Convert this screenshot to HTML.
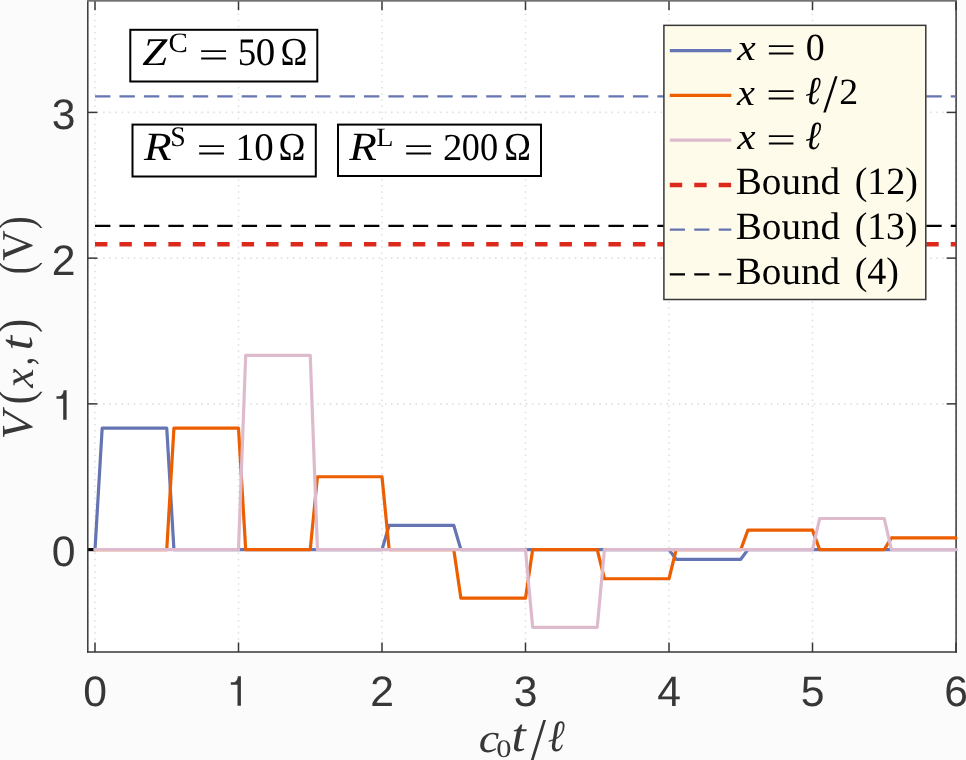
<!DOCTYPE html>
<html><head><meta charset="utf-8"><style>
html,body{margin:0;padding:0;background:#fbfbfb;overflow:hidden;}
svg{display:block;will-change:transform;}
text{font-kerning:none;text-rendering:geometricPrecision;}
</style></head><body>
<svg width="966" height="760" viewBox="0 0 966 760">
<rect x="0" y="0" width="966" height="760" fill="#fbfbfb"/>
<rect x="87.8" y="0" width="868.30" height="652.00" fill="#ffffff"/>
<g stroke="#e0e0e0" stroke-width="1.6" stroke-dasharray="1.6 4.525" fill="none">
<g stroke-dashoffset="-0.95">
<line x1="95.00" y1="0.30" x2="95.00" y2="652.00"/>
<line x1="238.50" y1="0.30" x2="238.50" y2="652.00"/>
<line x1="382.00" y1="0.30" x2="382.00" y2="652.00"/>
<line x1="525.50" y1="0.30" x2="525.50" y2="652.00"/>
<line x1="669.00" y1="0.30" x2="669.00" y2="652.00"/>
<line x1="812.50" y1="0.30" x2="812.50" y2="652.00"/>
<line x1="956.00" y1="0.30" x2="956.00" y2="652.00"/>
</g>
<g stroke-dashoffset="-3.05">
<line x1="87.80" y1="549.60" x2="956.10" y2="549.60"/>
<line x1="87.80" y1="403.87" x2="956.10" y2="403.87"/>
<line x1="87.80" y1="258.14" x2="956.10" y2="258.14"/>
<line x1="87.80" y1="112.41" x2="956.10" y2="112.41"/>
</g>
</g>
<g stroke="#373737" stroke-width="1.5" fill="none">
<line x1="87.8" y1="0" x2="87.8" y2="652.75"/>
<line x1="956.1" y1="0" x2="956.1" y2="652.75"/>
<line x1="87.05" y1="652.0" x2="956.85" y2="652.0"/>
<line x1="95.00" y1="652.00" x2="95.00" y2="642.50"/>
<line x1="95.00" y1="0.00" x2="95.00" y2="10.20"/>
<line x1="238.50" y1="652.00" x2="238.50" y2="642.50"/>
<line x1="238.50" y1="0.00" x2="238.50" y2="10.20"/>
<line x1="382.00" y1="652.00" x2="382.00" y2="642.50"/>
<line x1="382.00" y1="0.00" x2="382.00" y2="10.20"/>
<line x1="525.50" y1="652.00" x2="525.50" y2="642.50"/>
<line x1="525.50" y1="0.00" x2="525.50" y2="10.20"/>
<line x1="669.00" y1="652.00" x2="669.00" y2="642.50"/>
<line x1="669.00" y1="0.00" x2="669.00" y2="10.20"/>
<line x1="812.50" y1="652.00" x2="812.50" y2="642.50"/>
<line x1="812.50" y1="0.00" x2="812.50" y2="10.20"/>
<line x1="956.00" y1="652.00" x2="956.00" y2="642.50"/>
<line x1="956.00" y1="0.00" x2="956.00" y2="10.20"/>
<line x1="87.80" y1="549.60" x2="97.30" y2="549.60"/>
<line x1="956.10" y1="549.60" x2="946.60" y2="549.60"/>
<line x1="87.80" y1="403.87" x2="97.30" y2="403.87"/>
<line x1="956.10" y1="403.87" x2="946.60" y2="403.87"/>
<line x1="87.80" y1="258.14" x2="97.30" y2="258.14"/>
<line x1="956.10" y1="258.14" x2="946.60" y2="258.14"/>
<line x1="87.80" y1="112.41" x2="97.30" y2="112.41"/>
<line x1="956.10" y1="112.41" x2="946.60" y2="112.41"/>
</g>
<rect x="87.05" y="0" width="869.80" height="1.7" fill="#727272"/>
<g fill="none" stroke-width="3.2" stroke-linejoin="round" stroke-linecap="round">
<line x1="88.3" y1="549.6" x2="95.00" y2="549.6" stroke="#000" stroke-linecap="butt"/>
<polyline points="95.00,549.60 102.17,428.16 166.75,428.16 173.93,549.60 382.00,549.60 389.17,525.31 453.75,525.31 460.92,549.60 669.00,549.60 676.17,559.32 740.75,559.32 747.92,549.60 956.00,549.60" stroke="#6574b2"/>
<polyline points="95.00,549.60 166.75,549.60 173.93,428.16 238.50,428.16 245.68,549.60 310.25,549.60 317.43,476.74 382.00,476.74 389.17,549.60 453.75,549.60 460.92,598.18 525.50,598.18 532.67,549.60 597.25,549.60 604.42,578.75 669.00,578.75 676.17,549.60 740.75,549.60 747.92,530.17 812.50,530.17 819.67,549.60 884.25,549.60 891.42,537.94 956.00,537.94" stroke="#ec5e00"/>
<polyline points="95.00,549.60 238.50,549.60 245.68,355.29 310.25,355.29 317.43,549.60 525.50,549.60 532.67,627.32 597.25,627.32 604.42,549.60 812.50,549.60 819.67,518.51 884.25,518.51 891.42,549.60 956.00,549.60" stroke="#ddbbcd"/>
</g>
<g fill="none">
<line x1="95.00" y1="244.3" x2="956.10" y2="244.3" stroke="#db2a1c" stroke-width="4.4" stroke-dasharray="12.4 12.05"/>
<line x1="95.00" y1="96.3" x2="956.10" y2="96.3" stroke="#6574b2" stroke-width="2.2" stroke-dasharray="15.4 9.05"/>
<line x1="95.00" y1="225.8" x2="956.10" y2="225.8" stroke="#000" stroke-width="2.2" stroke-dasharray="15.4 9.05"/>
</g>
<g font-family='"Liberation Sans",sans-serif' font-size="42.7" fill="#373737">
<text x="95.00" y="706.2" text-anchor="middle">0</text>
<text x="382.00" y="706.2" text-anchor="middle">2</text>
<text x="525.50" y="706.2" text-anchor="middle">3</text>
<text x="669.00" y="706.2" text-anchor="middle">4</text>
<text x="812.50" y="706.2" text-anchor="middle">5</text>
<text x="956.00" y="706.2" text-anchor="middle">6</text>
<path d="M240.90 676.30 L240.90 705.80 L237.50 705.80 L237.50 684.80 L230.80 684.80 L230.80 682.20 L234.30 682.20 Q237.30 681.50 237.90 676.30 Z"/>
<text x="75.5" y="566.20" text-anchor="end">0</text>
<text x="75.5" y="274.74" text-anchor="end">2</text>
<text x="75.5" y="129.01" text-anchor="end">3</text>
<path d="M66.60 390.30 L66.60 419.80 L63.20 419.80 L63.20 398.80 L56.50 398.80 L56.50 396.20 L60.00 396.20 Q63.00 395.50 63.60 390.30 Z"/>
</g>
<g stroke="#000" stroke-width="2" fill="#fff">
<rect x="130.3" y="29.8" width="187" height="51.7"/>
<rect x="132.5" y="124.6" width="183.3" height="51.9"/>
<rect x="338" y="124.6" width="203" height="51.4"/>
</g>
<rect x="663.9" y="25.35" width="261.9" height="274.15" fill="#fffbeb" stroke="#373737" stroke-width="1.5"/>
<g fill="none">
<line x1="669.8" y1="50.7" x2="731.3" y2="50.7" stroke="#6574b2" stroke-width="3.2"/>
<line x1="669.8" y1="95.3" x2="731.3" y2="95.3" stroke="#ec5e00" stroke-width="3.2"/>
<line x1="669.8" y1="140.2" x2="731.3" y2="140.2" stroke="#ddbbcd" stroke-width="3.2"/>
<line x1="669.8" y1="185" x2="731.3" y2="185" stroke="#db2a1c" stroke-width="4.4" stroke-dasharray="12.4 12.05"/>
<line x1="669.8" y1="229.6" x2="731.3" y2="229.6" stroke="#6574b2" stroke-width="2.2" stroke-dasharray="15.2 9.25"/>
<line x1="669.8" y1="274.4" x2="731.3" y2="274.4" stroke="#000" stroke-width="2.2" stroke-dasharray="15.2 9.25"/>
</g>
<g fill="#000">
<text transform="matrix(0.4167 0 0 0.3726 737.21 60.00)" font-family='"Liberation Serif",serif' font-size="100" font-style="italic">x</text>
<text transform="matrix(0.5287 0 0 0.3680 766.17 62.42)" font-family='"Liberation Serif",serif' font-size="100">=</text>
<text transform="matrix(0.3799 0 0 0.3823 805.65 60.13)" font-family='"Liberation Serif",serif' font-size="100">0</text>
<text transform="matrix(0.4034 0 0 0.3726 736.99 104.50)" font-family='"Liberation Serif",serif' font-size="100" font-style="italic">x</text>
<text transform="matrix(0.5373 0 0 0.3680 766.12 107.02)" font-family='"Liberation Serif",serif' font-size="100">=</text>
<text transform="matrix(0.3733 0 0 0.3954 805.13 104.21)" font-family='"Liberation Serif",serif' font-size="100" font-style="italic">ℓ</text>
<text transform="matrix(0.5147 0 0 0.5426 823.30 112.47)" font-family='"Liberation Serif",serif' font-size="100">/</text>
<text transform="matrix(0.3792 0 0 0.3700 839.33 104.30)" font-family='"Liberation Serif",serif' font-size="100">2</text>
<text transform="matrix(0.4123 0 0 0.3726 737.20 149.30)" font-family='"Liberation Serif",serif' font-size="100" font-style="italic">x</text>
<text transform="matrix(0.5287 0 0 0.3680 766.17 151.62)" font-family='"Liberation Serif",serif' font-size="100">=</text>
<text transform="matrix(0.3835 0 0 0.3983 805.31 149.31)" font-family='"Liberation Serif",serif' font-size="100" font-style="italic">ℓ</text>
<text transform="matrix(1.0178 0 0 1 735.67 193.80)" font-family='"Liberation Serif",serif' font-size="38.5" xml:space="preserve">Bound</text>
<text transform="matrix(0.9875 0 0 1 854.63 193.80)" font-family='"Liberation Serif",serif' font-size="38.5" xml:space="preserve">(12)</text>
<text transform="matrix(1.0178 0 0 1 735.67 238.60)" font-family='"Liberation Serif",serif' font-size="38.5" xml:space="preserve">Bound</text>
<text transform="matrix(0.9809 0 0 1 854.64 238.60)" font-family='"Liberation Serif",serif' font-size="38.5" xml:space="preserve">(13)</text>
<text transform="matrix(1.0178 0 0 1 735.67 283.50)" font-family='"Liberation Serif",serif' font-size="38.5" xml:space="preserve">Bound</text>
<text transform="matrix(0.9878 0 0 1 854.63 283.50)" font-family='"Liberation Serif",serif' font-size="38.5" xml:space="preserve">(4)</text>
<text transform="matrix(0.4491 0 0 0.3925 142.15 64.90)" font-family='"Liberation Serif",serif' font-size="100" font-style="italic">Z</text>
<text transform="matrix(0.2891 0 0 0.2813 168.41 51.63)" font-family='"Liberation Serif",serif' font-size="100">C</text>
<text transform="matrix(0.5351 0 0 0.3680 198.43 67.42)" font-family='"Liberation Serif",serif' font-size="100">=</text>
<text transform="matrix(0.3699 0 0 0.3897 237.75 65.42)" font-family='"Liberation Serif",serif' font-size="100">5</text>
<text transform="matrix(0.3893 0 0 0.3912 255.82 65.32)" font-family='"Liberation Serif",serif' font-size="100">0</text>
<text transform="matrix(0.3627 0 0 0.3972 280.62 64.90)" font-family='"Liberation Serif",serif' font-size="100">Ω</text>
<text transform="matrix(0.4536 0 0 0.4001 143.94 160.00)" font-family='"Liberation Serif",serif' font-size="100" font-style="italic">R</text>
<text transform="matrix(0.2785 0 0 0.2843 170.34 146.42)" font-family='"Liberation Serif",serif' font-size="100">S</text>
<text transform="matrix(0.5330 0 0 0.3680 196.45 162.42)" font-family='"Liberation Serif",serif' font-size="100">=</text>
<text transform="matrix(0.3749 0 0 0.3832 235.40 160.00)" font-family='"Liberation Serif",serif' font-size="100">1</text>
<text transform="matrix(0.3893 0 0 0.3912 254.22 160.32)" font-family='"Liberation Serif",serif' font-size="100">0</text>
<text transform="matrix(0.3627 0 0 0.3987 278.62 159.90)" font-family='"Liberation Serif",serif' font-size="100">Ω</text>
<text transform="matrix(0.4520 0 0 0.4001 349.24 160.00)" font-family='"Liberation Serif",serif' font-size="100" font-style="italic">R</text>
<text transform="matrix(0.2816 0 0 0.2642 376.29 145.90)" font-family='"Liberation Serif",serif' font-size="100">L</text>
<text transform="matrix(0.5351 0 0 0.3680 403.43 162.42)" font-family='"Liberation Serif",serif' font-size="100">=</text>
<text transform="matrix(0.3867 0 0 0.3806 443.10 160.00)" font-family='"Liberation Serif",serif' font-size="100">2</text>
<text transform="matrix(0.3610 0 0 0.3912 461.73 160.32)" font-family='"Liberation Serif",serif' font-size="100">0</text>
<text transform="matrix(0.3634 0 0 0.3912 480.12 160.32)" font-family='"Liberation Serif",serif' font-size="100">0</text>
<text transform="matrix(0.3596 0 0 0.3987 504.34 159.90)" font-family='"Liberation Serif",serif' font-size="100">Ω</text>
</g>
<g fill="#373737">
<text transform="matrix(0.4623 0 0 0.4096 478.78 751.50)" font-family='"Liberation Serif",serif' font-size="100" font-style="italic">c</text>
<text transform="matrix(0.3044 0 0 0.2519 496.14 757.25)" font-family='"Liberation Serif",serif' font-size="100">0</text>
<text transform="matrix(0.5120 0 0 0.4714 511.55 751.44)" font-family='"Liberation Serif",serif' font-size="100" font-style="italic">t</text>
<text transform="matrix(0.5759 0 0 0.6383 529.90 762.38)" font-family='"Liberation Serif",serif' font-size="100">/</text>
<text transform="matrix(0.4091 0 0 0.4457 547.66 751.46)" font-family='"Liberation Serif",serif' font-size="100" font-style="italic">ℓ</text>
</g>
<g fill="#373737" transform="rotate(-90)">
<text transform="matrix(0.4612 0 0 0.4433 -439.61 32.23)" font-family='"Liberation Serif",serif' font-size="100" font-style="italic">V</text>
<text transform="matrix(0.4127 0 0 0.4875 -404.31 32.32)" font-family='"Liberation Serif",serif' font-size="100">(</text>
<text transform="matrix(0.4368 0 0 0.4270 -387.77 32.90)" font-family='"Liberation Serif",serif' font-size="100" font-style="italic">x</text>
<text transform="matrix(0.3357 0 0 0.4439 -365.28 32.17)" font-family='"Liberation Serif",serif' font-size="100">,</text>
<text transform="matrix(0.5278 0 0 0.4662 -350.62 32.44)" font-family='"Liberation Serif",serif' font-size="100" font-style="italic">t</text>
<text transform="matrix(0.4166 0 0 0.4875 -332.74 32.32)" font-family='"Liberation Serif",serif' font-size="100">)</text>
<text transform="matrix(0.3777 0 0 0.4842 -274.26 32.09)" font-family='"Liberation Serif",serif' font-size="100">(</text>
<text transform="matrix(0.4216 0 0 0.4403 -260.67 32.03)" font-family='"Liberation Serif",serif' font-size="100">V</text>
<text transform="matrix(0.3855 0 0 0.4842 -229.24 32.09)" font-family='"Liberation Serif",serif' font-size="100">)</text>
</g>
</svg>
</body></html>
